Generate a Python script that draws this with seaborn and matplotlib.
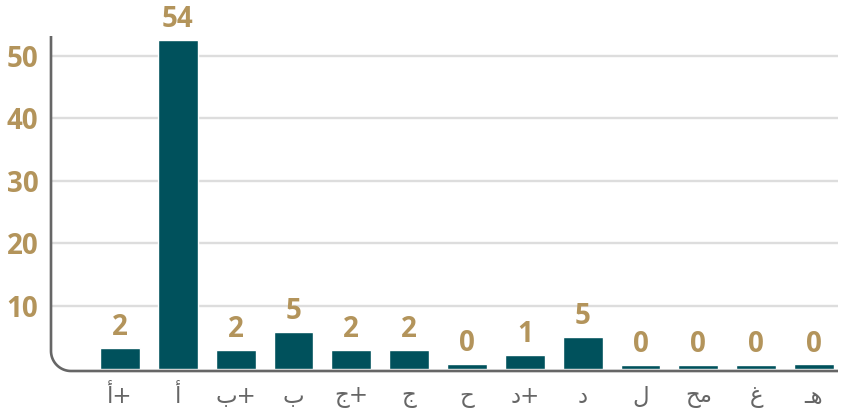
import numpy as np
import pandas as pd
import matplotlib
matplotlib.use("Agg")
import matplotlib.pyplot as plt
import seaborn as sns

# ------------------------------
# Data
# ------------------------------
# Arabic grade labels, written in visual (left-to-right) order;
# multi-letter labels use Arabic presentation forms so they join correctly
grades = ["أ+", "أ", "ب+", "ب", "ج+", "ج", "ح", "د+", "د", "ل",
          "\uFEA2\uFEE3", "غ", "\u0640\uFEEB"]
counts = [2, 54, 2, 5, 2, 2, 0, 1, 5, 0, 0, 0, 0]
bar_heights = [3.3, 52.5, 3.0, 5.85, 3.0, 3.0, 0.73, 2.17, 5.1, 0.62, 0.62, 0.62, 0.69]
y_ticks = [10, 20, 30, 40, 50]

df = pd.DataFrame({"grade": grades, "height": bar_heights})

# ------------------------------
# Style
# ------------------------------
sns.set_style("white")
plt.rcParams["font.family"] = ["Open Sans", "DejaVu Sans"]

bar_color = "#00515C"
gold = "#B3945B"
axis_gray = "#666666"
grid_gray = "#DDDDDD"

fig = plt.figure(figsize=(8.44, 4.13), dpi=100)
ax = fig.add_axes([51 / 844, 42 / 413, 787 / 844, 335 / 413])

sns.barplot(data=df, x="grade", y="height", order=grades, color=bar_color,
            saturation=1, width=0.69, ax=ax, zorder=3)

# ------------------------------
# Axes limits / ticks
# ------------------------------
ax.set_xlim(-1.193, 12.415)
ax.set_ylim(-0.38, 53.13)
ax.set_yticks(y_ticks)
ax.set_xlabel("")
ax.set_ylabel("")

ax.set_axisbelow(True)
ax.yaxis.grid(True, color=grid_gray, linewidth=1.7)
ax.xaxis.grid(False)

for s in ax.spines.values():
    s.set_visible(False)

ax.tick_params(axis="y", direction="in", length=8, width=1.9, color=axis_gray,
               pad=9, labelsize=20, labelcolor=gold)
for lab in ax.get_yticklabels():
    lab.set_fontweight("bold")

ax.tick_params(axis="x", length=0, pad=10, labelsize=16.5, labelcolor=axis_gray)
for lab in ax.get_xticklabels():
    lab.set_fontfamily("DejaVu Sans")

# rounded corner axis line (left + bottom)
r = 20.0
rx, ry = r / 787, r / 335
t = np.linspace(np.pi, 1.5 * np.pi, 30)
arc_x = rx + rx * np.cos(t)
arc_y = ry + ry * np.sin(t)
line_x = np.concatenate([[0, 0], arc_x, [1]])
line_y = np.concatenate([[1, ry], arc_y, [0]])
ax.plot(line_x, line_y, color=axis_gray, linewidth=1.9, transform=ax.transAxes,
        clip_on=False, zorder=5, solid_capstyle="butt")

# ------------------------------
# Value labels
# ------------------------------
ax.bar_label(ax.containers[0], labels=[str(c) for c in counts], padding=4,
             color=gold, fontsize=20, fontweight="bold", fontfamily="Open Sans")

fig.savefig("out.png", dpi=100)
